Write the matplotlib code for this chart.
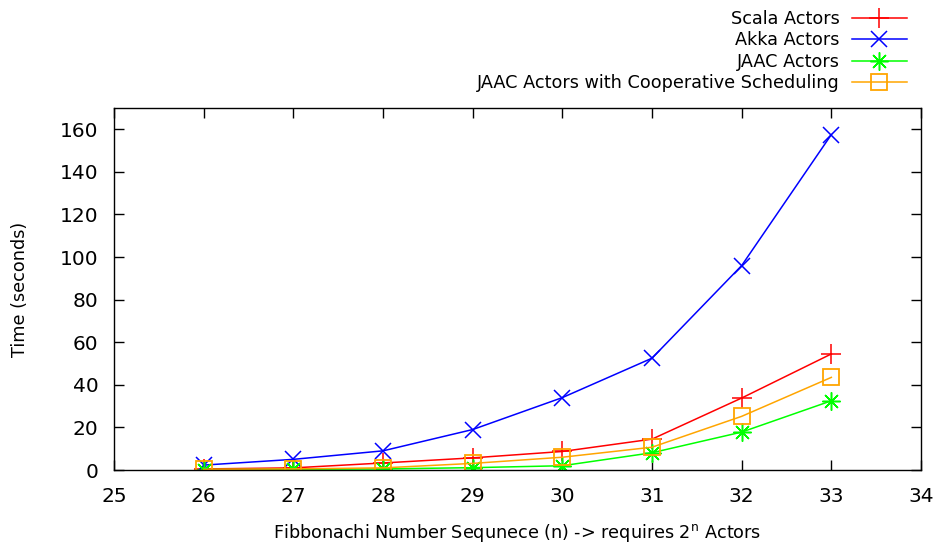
import matplotlib
matplotlib.use("Agg")
import matplotlib.pyplot as plt

n = [26, 27, 28, 29, 30, 31, 32, 33]
scala = [0.5, 1.0, 3.3, 5.7, 8.7, 14.5, 33.8, 54.5]
akka = [2.3, 5.0, 9.0, 19.0, 34.0, 52.5, 96.0, 157.5]
jaac = [0.2, 0.3, 0.5, 1.1, 2.0, 8.1, 17.8, 32.5]
jaac_coop = [0.3, 0.5, 1.0, 3.1, 6.0, 10.7, 25.2, 43.5]

labels = ["Scala Actors", "Akka Actors", "JAAC Actors",
          "JAAC Actors with Cooperative Scheduling"]
xticks = list(range(25, 35))
yticks = list(range(0, 161, 20))

plt.rcParams['font.family'] = ['DejaVu Sans']
fig = plt.figure(figsize=(9.38, 5.44), dpi=100)
ax = fig.add_axes([114/938, 1 - 470/544, (921-114)/938, (470-108)/544])

ax.plot(n, scala, color='#ff0000', lw=1.1, marker='+', ms=14, mew=1.1, label=labels[0])
ax.plot(n, akka, color='#0000ff', lw=1.1, marker='x', ms=11, mew=1.1, label=labels[1])
ax.plot(n, jaac, color='#00ff00', lw=1.1, marker=(8, 2, 0), ms=13, mew=1.1, label=labels[2])
ax.plot(n, jaac_coop, color='#ffa500', lw=1.1, marker='s', ms=12, mew=1.3,
        mfc='none', label=labels[3])

ax.set_xlim(25, 34)
ax.set_ylim(0, 170)
ax.set_xticks(xticks)
ax.set_yticks(yticks)
ax.tick_params(direction='in', length=7, width=1, top=True, right=True,
               labelsize=14.5, colors='black')
ax.tick_params(axis='x', pad=12)
ax.tick_params(axis='y', pad=11)
for s in ax.spines.values():
    s.set_linewidth(1.0)

ax.set_xlabel(r'Fibbonachi Number Sequnece (n) -> requires 2$^{\mathrm{n}}$ Actors',
              fontsize=12.7, va='center')
ax.set_ylabel('Time (seconds)', fontsize=12.7, va='center')
ax.xaxis.set_label_coords(0.5, (470 - 533) / 362)
ax.yaxis.set_label_coords((20 - 114) / 807, 0.5)

leg = fig.legend(loc='upper right', bbox_to_anchor=(915.5/938, 1 - 1.0/544),
                 frameon=False, markerfirst=False, fontsize=12.7,
                 handlelength=3.1, labelspacing=0.2, handletextpad=0.7,
                 borderpad=0.0)

fig.savefig('out.png', dpi=100)
